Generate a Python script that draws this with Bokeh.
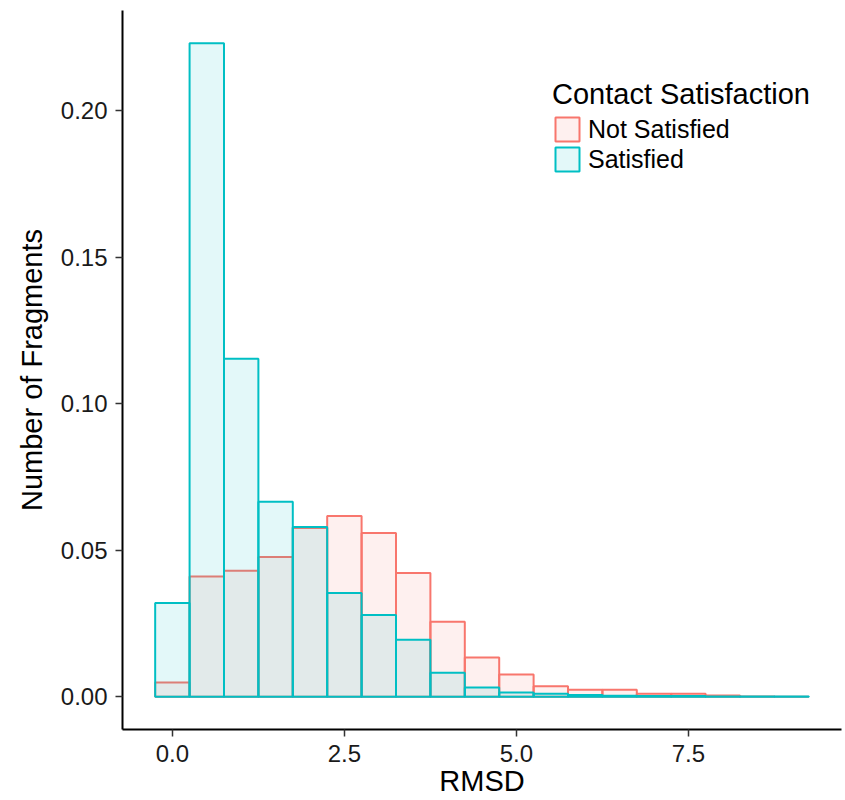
from bokeh.plotting import figure
from bokeh.models import Range1d, Legend, LegendItem, FixedTicker, ColumnDataSource
from bokeh.embed import file_html
from bokeh.resources import INLINE

# RMSD bin centres (bin width 0.5)
rmsd_bins = [0.0, 0.5, 1.0, 1.5, 2.0, 2.5, 3.0, 3.5, 4.0, 4.5,
             5.0, 5.5, 6.0, 6.5, 7.0, 7.5, 8.0, 8.5, 9.0]
bin_width = 0.5

# Fraction of fragments per bin
not_satisfied = [0.0048, 0.0410, 0.0430, 0.0477, 0.0576, 0.0617, 0.0559, 0.0422, 0.0256, 0.0134,
                 0.0076, 0.0036, 0.0024, 0.0024, 0.0010, 0.0010, 0.0004, 0.0001, 0.0000]
satisfied = [0.0320, 0.2230, 0.1153, 0.0665, 0.0579, 0.0354, 0.0279, 0.0194, 0.0082, 0.0031,
             0.0014, 0.0010, 0.0006, 0.0003, 0.0002, 0.0002, 0.0001, 0.0001, 0.0001]

group_labels = ["Not Satisfied", "Satisfied"]
group_colors = ["#F8766D", "#00BFC4"]

x_ticks = [0.0, 2.5, 5.0, 7.5]
y_ticks = [0.00, 0.05, 0.10, 0.15, 0.20]

FONT = "Liberation Sans"

p = figure(width=845, height=800, output_backend="svg", toolbar_location=None,
           x_range=Range1d(-0.725, 9.725), y_range=Range1d(-0.0112, 0.2342),
           min_border_left=122, min_border_right=4, min_border_top=10, min_border_bottom=71)
p.outline_line_color = None
p.grid.grid_line_color = None
p.background_fill_color = "white"
p.border_fill_color = "white"

def make_source(values):
    return ColumnDataSource(dict(
        left=[c - bin_width / 2 for c in rmsd_bins],
        right=[c + bin_width / 2 for c in rmsd_bins],
        top=values,
        bottom=[0.0] * len(values),
    ))

renderers = []
for vals, col in zip([not_satisfied, satisfied], group_colors):
    r = p.quad(left="left", right="right", top="top", bottom="bottom", source=make_source(vals),
               fill_color=col, fill_alpha=0.11, line_color=col, line_width=2)
    renderers.append(r)

legend = Legend(items=[LegendItem(label=lab, renderers=[r]) for lab, r in zip(group_labels, renderers)],
                title="Contact Satisfaction", location=(430, 555))
legend.title_text_font = FONT
legend.title_text_font_size = "29px"
legend.title_text_font_style = "normal"
legend.title_text_color = "black"
legend.title_standoff = 3
legend.label_text_font = FONT
legend.label_text_font_size = "25px"
legend.label_text_color = "black"
legend.glyph_width = 30
legend.glyph_height = 30
legend.label_height = 30
legend.spacing = 0
legend.label_standoff = 6
legend.padding = 0
legend.margin = 0
legend.border_line_alpha = 0
legend.background_fill_alpha = 0
p.add_layout(legend, "center")

for ax in (p.xaxis[0], p.yaxis[0]):
    ax.axis_line_color = "black"
    ax.axis_line_width = 2
    ax.major_tick_line_color = "#333333"
    ax.major_tick_line_width = 1.5
    ax.major_tick_out = 7
    ax.major_tick_in = 0
    ax.minor_tick_line_color = None
    ax.major_label_text_font = FONT
    ax.major_label_text_font_size = "24px"
    ax.major_label_text_color = "#1a1a1a"
    ax.axis_label_text_font = FONT
    ax.axis_label_text_font_size = "29px"
    ax.axis_label_text_font_style = "normal"
    ax.axis_label_text_color = "black"

p.xaxis.ticker = FixedTicker(ticks=x_ticks)
p.yaxis.ticker = FixedTicker(ticks=y_ticks)
p.xaxis.major_label_overrides = {t: f"{t:.1f}" for t in x_ticks}
p.yaxis.major_label_overrides = {t: f"{t:.2f}" for t in y_ticks}
p.xaxis.axis_label = "RMSD"
p.yaxis.axis_label = "Number of Fragments"
p.xaxis.major_label_standoff = 8
p.yaxis.major_label_standoff = 8
p.xaxis.axis_label_standoff = 0
p.yaxis.axis_label_standoff = 10

open("out.html", "w").write(file_html(p, INLINE))
